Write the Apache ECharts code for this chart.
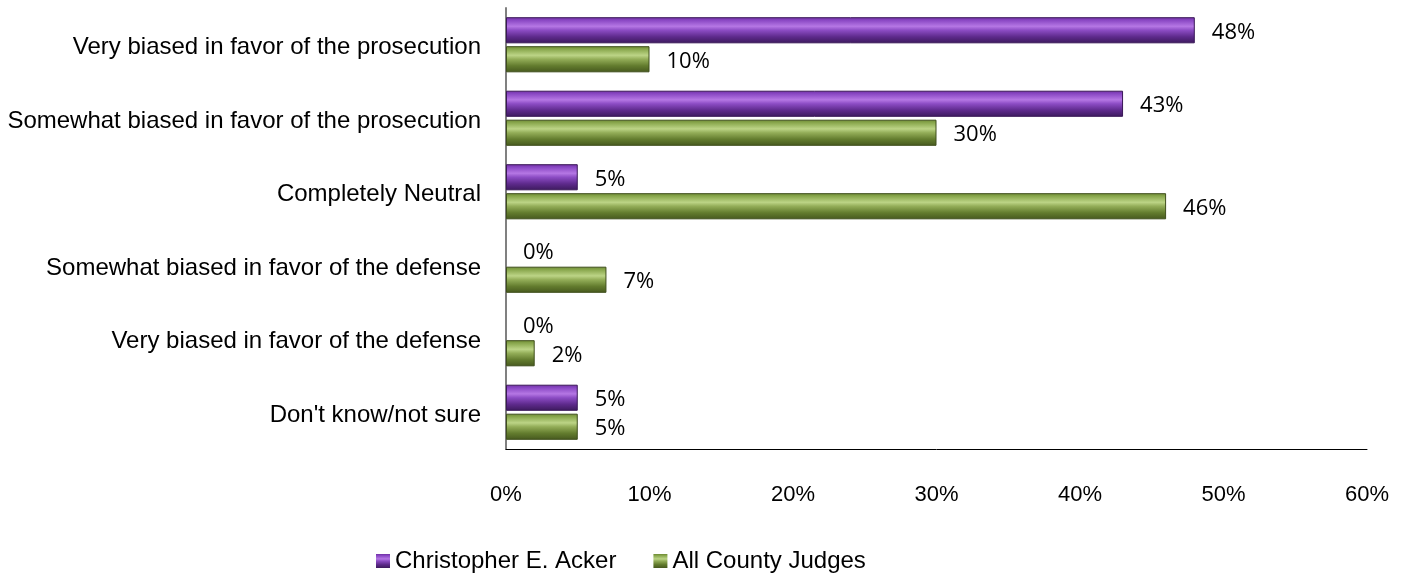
<!DOCTYPE html>
<html><head><meta charset="utf-8">
<script src="https://cdn.jsdelivr.net/npm/echarts@6/dist/echarts.min.js"></script>
<style>html,body{margin:0;padding:0;background:#fff}#c{width:1414px;height:575px}</style>
</head><body><div id="c"></div>
<script>
const categories = ["Very biased in favor of the prosecution","Somewhat biased in favor of the prosecution","Completely Neutral","Somewhat biased in favor of the defense","Very biased in favor of the defense","Don't know/not sure"];
const seriesNames = ["Christopher E. Acker","All County Judges"];
const ackerValues = [48,43,5,0,0,5];
const countyValues = [10,30,46,7,2,5];
const xTicks = [0,10,20,30,40,50,60];

function grad(stops){
  return new echarts.graphic.LinearGradient(0,0,0,1,stops.map((c,i)=>({offset:c[0],color:c[1]})));
}
const purple = grad([[0,'#6f2fa3'],[0.12,'#8a48c4'],[0.35,'#b577e4'],[0.5,'#8c4cc4'],[0.75,'#5e2a8c'],[1,'#3c1a5c']]);
const green = grad([[0,'#6d8a33'],[0.12,'#8aa84e'],[0.35,'#bcd486'],[0.5,'#93ad58'],[0.75,'#637c2e'],[1,'#46581e']]);

function items(vals, border){
  return vals.map(v=>({value:v,itemStyle:{borderWidth:v===0?0:1,borderColor:border}}));
}

const chart = echarts.init(document.getElementById('c'));
const labelStyle = {show:true,position:'right',distance:17,offset:[0,2],formatter:p=>p.value+'%',fontFamily:'Open Sans',fontSize:22,color:'#000'};
chart.setOption({
  animation:false,
  grid:{left:506,right:47,top:8,bottom:126,containLabel:false},
  legend:{top:549,left:376,padding:0,itemWidth:14,itemHeight:14,itemGap:37,icon:'rect',
    textStyle:{fontFamily:'Liberation Sans',fontSize:24,color:'#000'},data:seriesNames},
  xAxis:{type:'value',min:0,max:60,interval:10,
    axisLine:{show:true,lineStyle:{color:'#000',width:1}},axisTick:{show:false},splitLine:{show:false},
    axisLabel:{formatter:v=>v+'%',margin:35,fontFamily:'Liberation Sans',fontSize:22,color:'#000'}},
  yAxis:{type:'category',inverse:true,data:categories,
    axisLine:{show:true,lineStyle:{color:'#808080',width:2}},axisTick:{show:false},
    axisLabel:{margin:25,formatter:v=>'{a|'+v+'}',
      rich:{a:{padding:[6,0,0,0],fontFamily:'Liberation Sans',fontSize:24,color:'#000'}},
      fontFamily:'Liberation Sans',fontSize:24,color:'#000'}},
  series:[
    {name:seriesNames[0],type:'bar',data:items(ackerValues,'#3a1858'),barGap:'11%',barCategoryGap:'25%',
     itemStyle:{color:purple},label:labelStyle},
    {name:seriesNames[1],type:'bar',data:items(countyValues,'#3f4f1c'),
     itemStyle:{color:green},label:labelStyle}
  ]
});
</script></body></html>
